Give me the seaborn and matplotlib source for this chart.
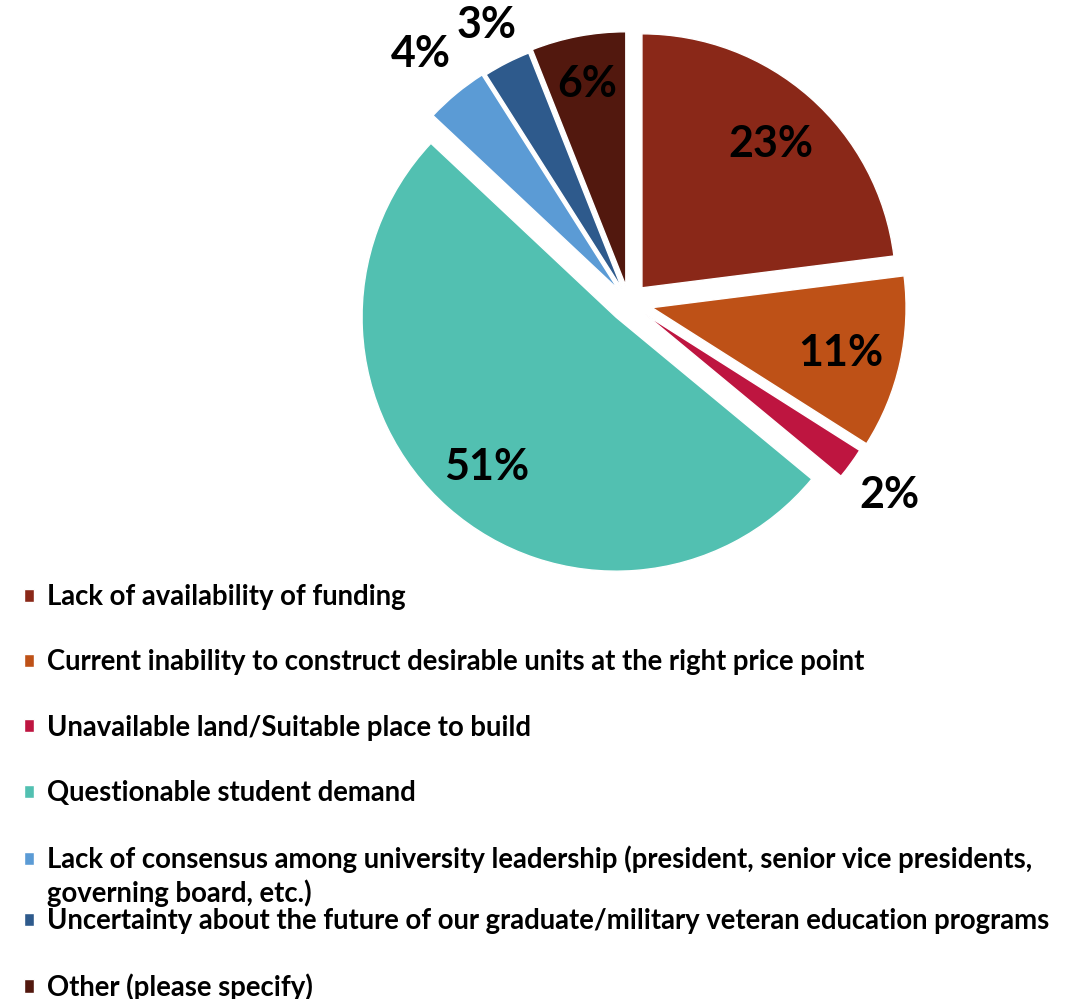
import numpy as np
import matplotlib
matplotlib.use('Agg')
import matplotlib.pyplot as plt
import seaborn as sns

# data
categories = [
    'Lack of availability of funding',
    'Current inability to construct desirable units at the right price point',
    'Unavailable land/Suitable place to build',
    'Questionable student demand',
    'Lack of consensus among university leadership (president, senior vice presidents,\ngoverning board, etc.)',
    'Uncertainty about the future of our graduate/military veteran education programs',
    'Other (please specify)',
]
values = [23, 11, 2, 51, 4, 3, 6]
colors = ['#8A2818', '#BE5117', '#BE1540', '#52C0B1', '#5B9BD5', '#2E5A8C', '#52180E']

# explode per slice and where its % label sits (pie radius = 1)
explode = [0.077, 0.093, 0.079, 0.077, 0.067, 0.059, 0.067]
label_dist = [0.77, 0.76, 1.19, 0.77, 1.22, 1.18, 0.82]

sns.set_theme(style='white')
plt.rcParams['font.family'] = ['Lato', 'DejaVu Sans']
plt.rcParams['font.weight'] = 'bold'
plt.rcParams['text.color'] = 'black'

fig = plt.figure(figsize=(10.81, 9.99), dpi=100)
ax = fig.add_axes([0, 0, 1, 1])

wedges, texts, autotexts = ax.pie(
    values, colors=sns.color_palette(colors), startangle=90, counterclock=False,
    explode=explode, autopct='%.0f%%', pctdistance=0.77,
    textprops=dict(fontsize=31, fontweight='bold', color='black'))

# move % labels per slice (outside for the small ones)
for w, t, d in zip(wedges, autotexts, label_dist):
    ang = np.deg2rad((w.theta1 + w.theta2) / 2)
    cx, cy = w.center
    t.set_position((cx + d * w.r * np.cos(ang), cy + d * w.r * np.sin(ang) - 3 / 254))

# pie centre at (629, 302.5) px, radius 254 px
ax.set_xlim(-629 / 254, (1081 - 629) / 254)
ax.set_ylim(-696.5 / 254, 302.5 / 254)
ax.set_aspect('auto')
ax.axis('off')

leg_kw = dict(loc='upper left', frameon=False, fontsize=19.8, labelcolor='black',
              handlelength=0.36, handleheight=0.36, handletextpad=0.47,
              labelspacing=1.43, borderpad=0, borderaxespad=0)
leg1 = fig.legend(wedges[:5], categories[:5], bbox_to_anchor=(24 / 1081, 1 - 584 / 999), **leg_kw)
leg2 = fig.legend(wedges[5:], categories[5:], bbox_to_anchor=(24 / 1081, 1 - 908 / 999), **leg_kw)
for t in leg1.get_texts():
    t.set_linespacing(1.3)

# square of the two-line entry goes next to its first line
h = leg1.legend_handles[4]
h.set_y(h.get_y() + 13)

fig.savefig('out.png', dpi=100)
